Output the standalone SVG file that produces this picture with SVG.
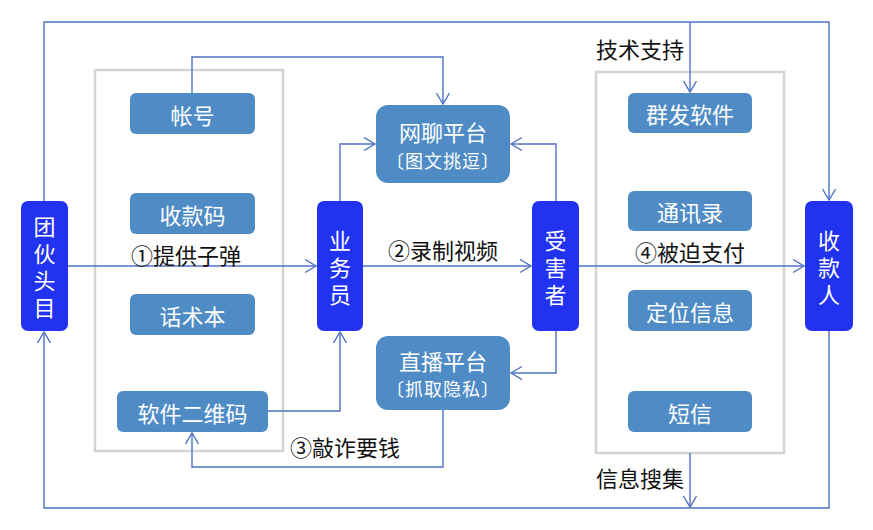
<svg xmlns="http://www.w3.org/2000/svg" width="873" height="530" viewBox="0 0 873 530">
<style>
.bg{fill:#ffffff}
.grp{fill:none;stroke:#d4d4d4;stroke-width:2.5}
.n{fill:#4f8cc6}
.v{fill:#2132f0}
.t{font-family:"Noto Sans CJK SC","Noto Sans",sans-serif;fill:#ffffff;font-size:22px;text-anchor:middle;dominant-baseline:central}
.vt{font-family:"Noto Sans CJK SC","Noto Sans",sans-serif;fill:#ffffff;font-size:22px;text-anchor:middle;writing-mode:vertical-rl;letter-spacing:5px}
.ts{font-size:18px;letter-spacing:1px}
.lb{font-family:"Noto Sans CJK SC","Noto Sans",sans-serif;fill:#111111;font-size:22px;dominant-baseline:central}
.c{fill:none;stroke:#5072c4;stroke-width:1.4}
</style>
<defs>
<marker id="a" markerUnits="userSpaceOnUse" markerWidth="14" markerHeight="16" refX="12" refY="7" orient="auto">
<path d="M1,0.5 L12,7 L1,13.5" fill="none" stroke="#5072c4" stroke-width="1.4"/>
</marker>
</defs>
<rect class="bg" width="873" height="530"/>
<rect class="grp" x="95" y="70" width="188" height="381"/>
<rect class="grp" x="596" y="72" width="188" height="381"/>
<g id="connectors">
<path class="c" d="M68,266 H316" marker-end="url(#a)"/>
<path class="c" d="M363,266 H531" marker-end="url(#a)"/>
<path class="c" d="M579,266 H804" marker-end="url(#a)"/>
<path class="c" d="M44,201 V22 H829 V200" marker-end="url(#a)"/>
<path class="c" d="M690,22 V92" marker-end="url(#a)"/>
<path class="c" d="M192,93 V57 H443 V104" marker-end="url(#a)"/>
<path class="c" d="M340,201 V144 H375" marker-end="url(#a)"/>
<path class="c" d="M556,201 V144 H511" marker-end="url(#a)"/>
<path class="c" d="M556,331 V373 H511" marker-end="url(#a)"/>
<path class="c" d="M268,411 H340 V332" marker-end="url(#a)"/>
<path class="c" d="M443,410 V467 H192 V433" marker-end="url(#a)"/>
<path class="c" d="M829,331 V508 H44 V332" marker-end="url(#a)"/>
<path class="c" d="M690,453 V507" marker-end="url(#a)"/>
</g>
<g id="tuanhuotoumu"><rect class="v" x="21" y="201" width="47" height="130" rx="7"/>
<text class="vt" x="44.5" y="270">团伙头目</text></g>
<g id="yewuyuan"><rect class="v" x="317" y="201" width="46" height="130" rx="7"/>
<text class="vt" x="340" y="270">业务员</text></g>
<g id="shouhaizhe"><rect class="v" x="532" y="201" width="47" height="130" rx="7"/>
<text class="vt" x="555.5" y="270">受害者</text></g>
<g id="shoukuanren"><rect class="v" x="805" y="201" width="48" height="130" rx="7"/>
<text class="vt" x="829" y="270">收款人</text></g>
<g id="zhanghao"><rect class="n" x="130" y="93" width="125" height="41" rx="6"/><text class="t" x="192.5" y="113.5">帐号</text></g>
<g id="shoukuanma"><rect class="n" x="130" y="193" width="125" height="41" rx="6"/><text class="t" x="192.5" y="213.5">收款码</text></g>
<g id="huashuben"><rect class="n" x="130" y="294" width="125" height="41" rx="6"/><text class="t" x="192.5" y="314.5">话术本</text></g>
<g id="ruanjianerweima"><rect class="n" x="117" y="391" width="151" height="41" rx="6"/><text class="t" x="192.5" y="411.5">软件二维码</text></g>
<g id="wangliao"><rect class="n" x="376" y="105" width="134" height="78" rx="12"/><text class="t" x="443" y="131">网聊平台</text><text class="t ts" x="443" y="160">〔图文挑逗〕</text></g>
<g id="zhibo"><rect class="n" x="376" y="336" width="134" height="74" rx="12"/><text class="t" x="443" y="360">直播平台</text><text class="t ts" x="443" y="388">〔抓取隐私〕</text></g>
<g id="qunfa"><rect class="n" x="628" y="93" width="124" height="40" rx="6"/><text class="t" x="690" y="113">群发软件</text></g>
<g id="tongxunlu"><rect class="n" x="628" y="191" width="124" height="40" rx="6"/><text class="t" x="690" y="211">通讯录</text></g>
<g id="dingwei"><rect class="n" x="628" y="290" width="124" height="41" rx="6"/><text class="t" x="690" y="310.5">定位信息</text></g>
<g id="duanxin"><rect class="n" x="628" y="391" width="124" height="41" rx="6"/><text class="t" x="690" y="411.5">短信</text></g>
<g id="labels">
<text class="lb" x="131" y="254">①提供子弹</text>
<text class="lb" x="388" y="249">②录制视频</text>
<text class="lb" x="635" y="251">④被迫支付</text>
<text class="lb" x="290" y="446">③敲诈要钱</text>
<text class="lb" x="596" y="48">技术支持</text>
<text class="lb" x="596" y="477">信息搜集</text>
</g>
</svg>
